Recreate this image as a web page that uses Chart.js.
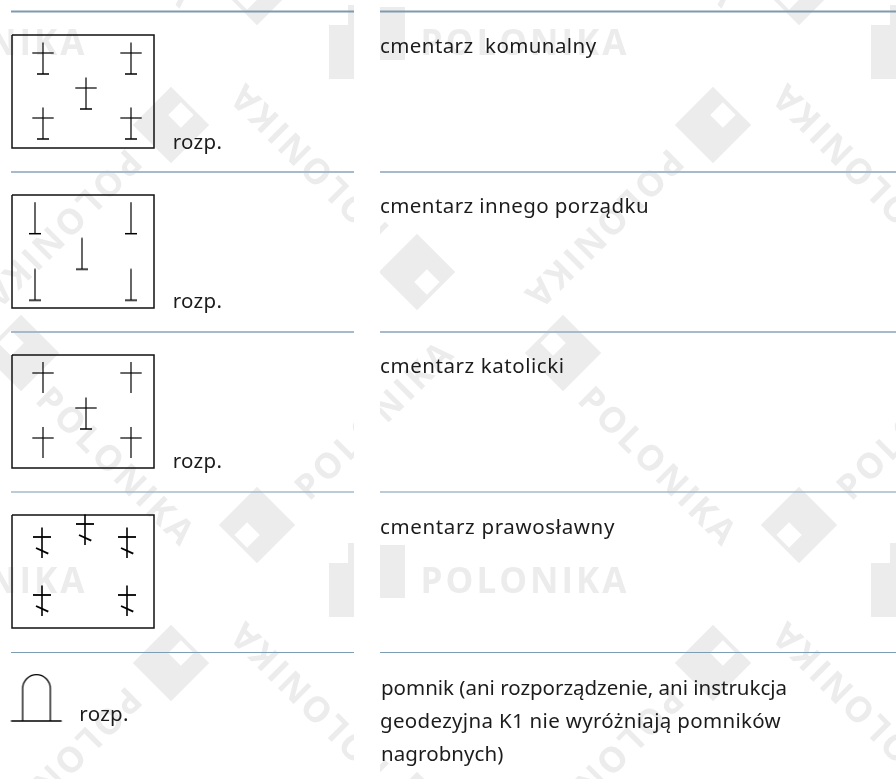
<!DOCTYPE html>
<html><head><meta charset="utf-8">
<style>html,body{margin:0;padding:0;background:#fff}canvas{display:block}</style>
<script src="https://cdn.jsdelivr.net/npm/chart.js@4/dist/chart.umd.min.js"></script>
</head><body><canvas id="c" width="896" height="779"></canvas>
<script>
// table rules
const ruleY = [11.5, 172, 332, 492, 652.5];
const ruleColors = ['#7d9ab0', '#a6bacb', '#a6bacb', '#a6bacb', '#7d9db5'];
const ruleWidths = [2, 2, 2, 1.6, 1];
const leftColumn = [11, 354];
const rightColumn = [380, 896];
// map-sign frames
const frameLeft = 12, frameRight = 154;
const frameTop = [35, 195, 355, 515];
const frameBottom = [148, 308, 468, 628];
// symbols: anchor positions
const communalX = [43, 131, 86, 43, 131, 86];
const communalY = [53, 53, 88, 118, 118, 408];
const otherX = [35, 131, 82, 35, 131];
const otherY = [218, 218, 253.5, 284.5, 284.5];
const catholicX = [43, 131, 43, 131];
const catholicY = [373, 373, 438, 438];
const orthodoxX = [42, 127, 85, 42, 127];
const orthodoxY = [537, 537, 524, 595, 595];
const monumentX = [36.5];
const monumentY = [698];
// texts
const labelTexts = ['rozp.', 'rozp.', 'rozp.', 'rozp.',
  'cmentarz  komunalny', 'cmentarz innego porządku', 'cmentarz katolicki', 'cmentarz prawosławny',
  'pomnik (ani rozporządzenie, ani instrukcja', 'geodezyjna K1 nie wyróżniają pomników', 'nagrobnych)'];
const labelX = [172.7, 172.7, 172.7, 79.3, 380, 380, 380, 380, 381, 380, 381];
const labelY = [149, 308, 468, 721, 53, 213, 373, 534, 695, 728, 761];
const labelWidths = [49.5, 49.5, 49.5, 49.5, 216.5, 269, 184.6, 235, 406, 401, 122.5];
// watermark
const markText = 'POLONIKA';
const markColor = '#ececec';
const wmTextX = [525, -17, 525, -17, 60, 602, 60, 602, 310, 852, 310, 852, 115, 657, 115, 657, 376, 918];
const wmTextY = [45, 45, 583, 583, 228, 228, 766, 766, 161, 161, 699, 699, 468, 468, -70, -70, 421, 421];
const wmTextA = [0, 0, 0, 0, 135, 135, 135, 135, 225, 225, 225, 225, 45, 45, 45, 45, -45, -45];
const wmLogoX = [367, 909, 367, 909, 171, 713, 171, 713, 417, 959, 417, 959, 21, 563, 257, 799, 257, 799];
const wmLogoY = [580, 580, 42, 42, 125, 125, 663, 663, 272, 272, 810, 810, 353, 353, 525, 525, -13, -13];
const wmLogoA = [0, 0, 0, 0, 135, 135, 135, 135, 225, 225, 225, 225, 45, 45, -45, -45, -45, -45];

const textFont = '20.5px "Noto Sans"';
const ink = '#1c1c1c';

function sym(w, h, draw) {
  const c = document.createElement('canvas');
  c.width = w; c.height = h;
  const g = c.getContext('2d');
  g.translate(w / 2, h / 2);
  g.strokeStyle = '#000';
  g.lineCap = 'butt';
  draw(g);
  return c;
}
function seg(g, x1, y1, x2, y2, lw) {
  g.lineWidth = lw; g.beginPath(); g.moveTo(x1, y1); g.lineTo(x2, y2); g.stroke();
}
const communalSym = sym(40, 70, g => {
  seg(g, 0, -10.5, 0, 21, 1.2); seg(g, -10.7, 0, 10.7, 0, 1.2); seg(g, -6, 21, 6, 21, 1.5);
});
const otherSym = sym(40, 70, g => {
  seg(g, 0, -15.7, 0, 15.7, 1.2); seg(g, -6, 15.7, 6, 15.7, 1.5);
});
const catholicSym = sym(40, 70, g => {
  seg(g, 0, -11, 0, 20, 1.2); seg(g, -10.7, 0, 10.7, 0, 1.2);
});
const orthodoxSym = sym(40, 70, g => {
  seg(g, 0, -9.5, 0, 21, 1.6); seg(g, -9, 0, 9, 0, 1.8); seg(g, -6, 11, 6.3, 16.6, 1.9);
});
const monumentSym = sym(70, 70, g => {
  seg(g, -25.5, 23, 25.2, 23, 1.3);
  g.lineWidth = 1.3; g.beginPath();
  g.moveTo(-13.8, 23); g.lineTo(-13.8, -9.5);
  g.arc(0, -9.5, 13.8, Math.PI, 0);
  g.lineTo(13.8, 23); g.stroke();
});

const pts = (xs, ys) => xs.map((x, i) => ({ x, y: ys[i] }));
const datasets = [];
ruleY.forEach((y, i) => {
  [leftColumn, rightColumn].forEach(col => datasets.push({
    data: [{ x: col[0], y }, { x: col[1], y }], showLine: true, pointRadius: 0,
    borderColor: ruleColors[i], borderWidth: ruleWidths[i], order: 2
  }));
});
frameTop.forEach((t, i) => {
  const b = frameBottom[i];
  datasets.push({
    data: [{ x: frameLeft, y: t }, { x: frameRight, y: t }, { x: frameRight, y: b }, { x: frameLeft, y: b }, { x: frameLeft, y: t }],
    showLine: true, pointRadius: 0, borderColor: '#111', borderWidth: 1.5, tension: 0, order: 2
  });
});
[[communalX, communalY, communalSym], [otherX, otherY, otherSym], [catholicX, catholicY, catholicSym],
 [orthodoxX, orthodoxY, orthodoxSym], [monumentX, monumentY, monumentSym]].forEach(([xs, ys, s]) => datasets.push({
  data: pts(xs, ys), showLine: false, pointStyle: s, pointRadius: 6, order: 1
}));

const watermark = {
  id: 'watermark',
  beforeDatasetsDraw(chart) {
    const { ctx, scales: { x, y } } = chart;
    ctx.save();
    ctx.beginPath();
    ctx.rect(0, 0, 896, 10); ctx.rect(0, 10, 354, 769); ctx.rect(380, 10, 516, 769);
    ctx.clip();
    ctx.fillStyle = markColor;
    wmLogoX.forEach((lx, i) => {
      ctx.save();
      ctx.translate(x.getPixelForValue(lx), y.getPixelForValue(wmLogoY[i]));
      ctx.rotate(wmLogoA[i] * Math.PI / 180);
      ctx.beginPath();
      if (wmLogoA[i] === 0) {
        ctx.rect(13, -35, 25, 53);
        ctx.rect(-38, -17, 25, 54);
        ctx.rect(-19, -37, 6, 20);
        ctx.fill();
      } else {
        ctx.rect(-27, -27, 54, 54);
        ctx.rect(-23, -9, 18, 18);
        ctx.fill('evenodd');
      }
      ctx.restore();
    });
    ctx.font = 'bold 35px "Open Sans"';
    ctx.letterSpacing = '3px';
    ctx.textAlign = 'center';
    ctx.textBaseline = 'middle';
    wmTextX.forEach((tx, i) => {
      ctx.save();
      ctx.translate(x.getPixelForValue(tx), y.getPixelForValue(wmTextY[i]));
      ctx.rotate(wmTextA[i] * Math.PI / 180);
      ctx.fillText(markText, 0, 0);
      ctx.restore();
    });
    ctx.restore();
  },
  afterDatasetsDraw(chart) {
    const { ctx, scales: { x, y } } = chart;
    ctx.save();
    ctx.font = textFont;
    ctx.fillStyle = ink;
    ctx.textAlign = 'left';
    ctx.textBaseline = 'alphabetic';
    labelTexts.forEach((t, i) => {
      ctx.letterSpacing = '0px';
      const natural = ctx.measureText(t).width;
      ctx.letterSpacing = ((labelWidths[i] - natural) / t.length).toFixed(3) + 'px';
      ctx.fillText(t, x.getPixelForValue(labelX[i]), y.getPixelForValue(labelY[i]));
    });
    ctx.restore();
  }
};

new Chart(document.getElementById('c'), {
  type: 'scatter',
  data: { datasets },
  plugins: [watermark],
  options: {
    responsive: false, animation: false,
    layout: { padding: 0, autoPadding: false },
    plugins: { legend: { display: false }, tooltip: { enabled: false }, title: { display: false } },
    scales: {
      x: { type: 'linear', display: false, min: 0, max: 896 },
      y: { type: 'linear', display: false, min: 0, max: 779, reverse: true }
    }
  }
});
</script></body></html>
